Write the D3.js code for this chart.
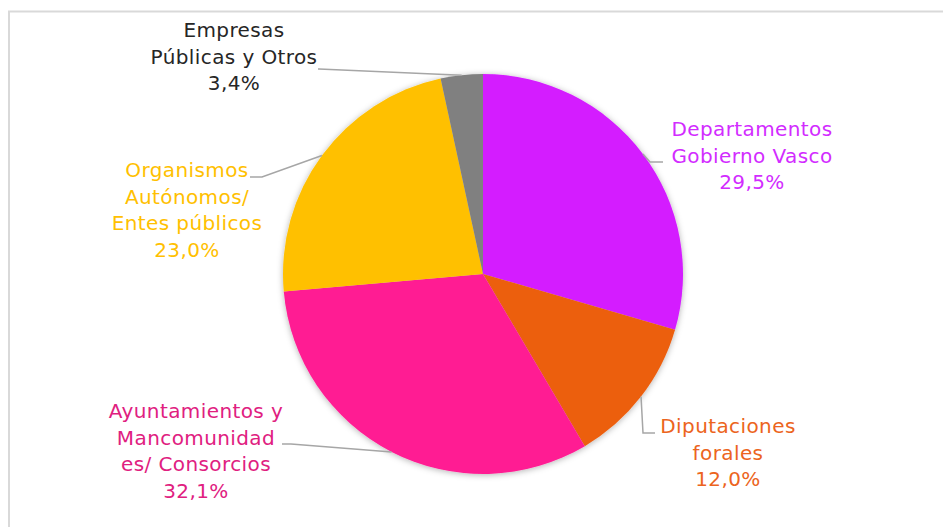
<!DOCTYPE html>
<html>
<head>
<meta charset="utf-8">
<script src="https://cdn.jsdelivr.net/npm/d3@7"></script>
<style>
  body { margin: 0; background: #fff; }
  svg { display: block; }
</style>
</head>
<body>
<div id="chart"></div>
<script>
// slices, clockwise from 12 o'clock
var categories = ["Departamentos Gobierno Vasco", "Diputaciones forales",
  "Ayuntamientos y Mancomunidades/ Consorcios", "Organismos Autónomos/ Entes públicos",
  "Empresas Públicas y Otros"]
var shares = [29.5, 12.0, 32.1, 23.0, 3.4]
var labelLines = [
  ["Departamentos", "Gobierno Vasco"],
  ["Diputaciones", "forales"],
  ["Ayuntamientos y", "Mancomunidad", "es/ Consorcios"],
  ["Organismos", "Autónomos/", "Entes públicos"],
  ["Empresas", "Públicas y Otros"]
]
var fills = ["#d41eff", "#ec5e0f", "#ff1c93", "#ffc000", "#808080"]
var textColors = ["#d22cff", "#ec6420", "#e0207f", "#ffc000", "#262626"]

var width = 943, height = 527
var cx = 483, cy = 274, r = 200

// label anchor (centre x, first baseline) and leader elbow/end points
var labelPos = [
  { x: 752, y: 136, leader: [[650, 162], [663, 162]] },
  { x: 728, y: 433, leader: [[643, 433], [655, 433]] },
  { x: 196, y: 418, leader: [[291, 444], [282, 444]] },
  { x: 187, y: 177, leader: [[262, 177], [250, 177]] },
  { x: 234, y: 37,  leader: [[319, 69], [318, 69]] }
]

var svg = d3.select("#chart").append("svg")
  .attr("width", width)
  .attr("height", height)

// chart area frame
svg.append("rect")
  .attr("x", 9).attr("y", 11.5)
  .attr("width", 960).attr("height", 540)
  .attr("fill", "#fff")
  .attr("stroke", "#d9d9d9")
  .attr("stroke-width", 2)

var defs = svg.append("defs")
var filt = defs.append("filter").attr("id", "shadow")
  .attr("x", "-10%").attr("y", "-10%").attr("width", "120%").attr("height", "120%")
filt.append("feDropShadow")
  .attr("dx", 0).attr("dy", 1)
  .attr("stdDeviation", 3)
  .attr("flood-color", "#000")
  .attr("flood-opacity", 0.3)

var pie = d3.pie().sort(null).value(d => d)
var arcs = pie(shares)
var arc = d3.arc().innerRadius(0).outerRadius(r)
var edge = d3.arc().innerRadius(r).outerRadius(r)

var g = svg.append("g").attr("transform", `translate(${cx},${cy})`)

g.append("g").attr("filter", "url(#shadow)")
  .selectAll("path")
  .data(arcs)
  .enter().append("path")
    .attr("d", arc)
    .attr("fill", (d, i) => fills[i])

// leader lines from slice edge midpoint
svg.selectAll(".leader")
  .data(arcs)
  .enter().append("polyline")
    .attr("class", "leader")
    .attr("points", function (d, i) {
      var c = edge.centroid(d)
      var pts = [[cx + c[0], cy + c[1]]].concat(labelPos[i].leader)
      return pts.map(p => p.join(",")).join(" ")
    })
    .attr("fill", "none")
    .attr("stroke", "#a6a6a6")
    .attr("stroke-width", 1.5)

var labels = svg.selectAll(".lbl")
  .data(arcs)
  .enter().append("text")
    .attr("class", "lbl")
    .attr("text-anchor", "middle")
    .attr("font-family", "'DejaVu Sans', sans-serif")
    .attr("font-size", "20px")
    .attr("letter-spacing", "0.4px")
    .attr("fill", (d, i) => textColors[i])

labels.each(function (d, i) {
  var t = d3.select(this)
  var lines = labelLines[i].concat([d3.format(".1f")(shares[i]).replace(".", ",") + "%"])
  lines.forEach(function (s, j) {
    t.append("tspan")
      .attr("x", labelPos[i].x)
      .attr("y", labelPos[i].y + j * 26.5)
      .text(s)
  })
})
</script>
</body>
</html>
